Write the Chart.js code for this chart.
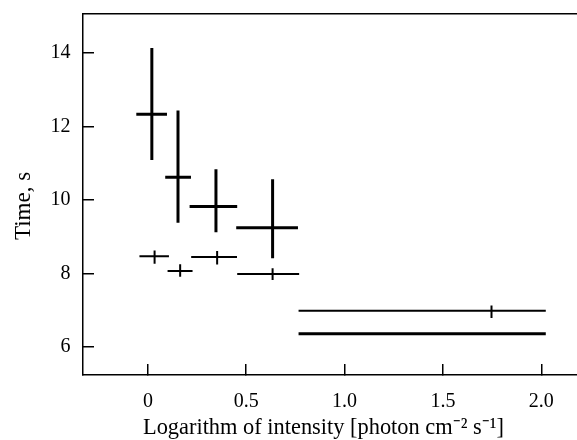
<!DOCTYPE html>
<html>
<head>
<meta charset="utf-8">
<script src="https://cdn.jsdelivr.net/npm/chart.js@4"></script>
<style>
html,body{margin:0;padding:0;background:#fff;overflow:hidden;}
#wrap{width:577px;height:440px;overflow:hidden;position:relative;}
canvas{display:block;}
</style>
</head>
<body>
<div id="wrap"><canvas id="c" width="600" height="440"></canvas></div>
<script>
// Upper series (thick crosses)
const upperX    = [0.020, 0.153, 0.346, 0.634, 1.395];
const upperXLo  = [-0.059, 0.088, 0.212, 0.449, 0.766];
const upperXHi  = [0.097, 0.219, 0.454, 0.763, 2.023];
const upperY    = [12.34, 10.62, 9.82, 9.245, 6.35];
const upperYLo  = [11.09, 9.38, 9.12, 8.41, 6.35];
const upperYHi  = [14.14, 12.44, 10.84, 10.565, 6.35];
// Lower series (thin crosses)
const lowerX    = [0.034, 0.164, 0.352, 0.634, 1.747];
const lowerXLo  = [-0.043, 0.100, 0.220, 0.454, 0.766];
const lowerXHi  = [0.107, 0.227, 0.453, 0.769, 2.023];
const lowerY    = [8.465, 8.064, 8.446, 7.98, 6.98];
const lowerYLo  = [8.26, 7.91, 8.24, 7.82, 6.78];
const lowerYHi  = [8.62, 8.25, 8.61, 8.14, 7.12];
// Tick labels
const xTicks = [0, 0.5, 1.0, 1.5, 2.0];
const yTicks = [6, 8, 10, 12, 14];

const FONT = "'Liberation Serif', 'Times New Roman', serif";

function crosses(xs, xlo, xhi, ys, ylo, yhi, width) {
  const out = [];
  for (let i = 0; i < xs.length; i++) {
    out.push({data: [{x: xlo[i], y: ys[i]}, {x: xhi[i], y: ys[i]}],
      borderColor: '#000', borderWidth: width, pointRadius: 0, showLine: true, fill: false});
    if (yhi[i] > ylo[i]) {
      out.push({data: [{x: xs[i], y: ylo[i]}, {x: xs[i], y: yhi[i]}],
        borderColor: '#000', borderWidth: width, pointRadius: 0, showLine: true, fill: false});
    }
  }
  return out;
}

const datasets = [].concat(
  crosses(upperX, upperXLo, upperXHi, upperY, upperYLo, upperYHi, 3),
  crosses(lowerX, lowerXLo, lowerXHi, lowerY, lowerYLo, lowerYHi, 2)
);

new Chart(document.getElementById('c'), {
  type: 'scatter',
  data: {datasets},
  options: {
    responsive: false,
    animation: false,
    devicePixelRatio: 1,
    layout: {padding: {top: 14, right: 19.4, bottom: 0, left: 0}},
    plugins: {legend: {display: false}, tooltip: {enabled: false}},
    scales: {
      x: {
        type: 'linear', position: 'bottom', min: -0.33, max: 2.2,
        afterBuildTicks: s => { s.ticks = xTicks.map(v => ({value: v})); },
        afterFit: s => { s.height = 65; s.paddingLeft = 0; s.paddingRight = 0; },
        border: {display: true, color: '#000', width: 1.5},
        grid: {display: true, drawOnChartArea: false, drawTicks: true, tickLength: -11, color: '#000', lineWidth: 1.5},
        ticks: {color: '#000', padding: 26, maxRotation: 0, font: {family: FONT, size: 20},
          callback: v => (v === 0 ? '0' : v.toFixed(1))},
        title: {display: true, text: 'Logarithm of intensity [photon cm\u207B\u00B2 s\u207B\u00B9]\u00A0\u00A0\u00A0',
          color: '#000', font: {family: FONT, size: 22.4}, padding: {top: 0, bottom: -1.5}}
      },
      xTop: {
        type: 'linear', position: 'top', min: -0.33, max: 2.2,
        afterFit: s => { s.height = 0; s.paddingLeft = 0; s.paddingRight = 0; },
        border: {display: true, color: '#000', width: 1.5},
        grid: {display: false, drawOnChartArea: false, drawTicks: false},
        ticks: {display: false}
      },
      y: {
        type: 'linear', position: 'left', min: 5.228, max: 15.07,
        afterBuildTicks: s => { s.ticks = yTicks.map(v => ({value: v})); },
        afterFit: s => { s.width = 83; s.paddingTop = 0; s.paddingBottom = 0; },
        border: {display: true, color: '#000', width: 1.5},
        grid: {display: true, drawOnChartArea: false, drawTicks: true, tickLength: -11, color: '#000', lineWidth: 1.5},
        ticks: {color: '#000', padding: 23.5, font: {family: FONT, size: 20}, callback: v => String(v)},
        title: {display: true, text: 'Time, s\u00A0\u00A0\u00A0\u00A0',
          color: '#000', font: {family: FONT, size: 23}, padding: {top: 10.4, bottom: 0}}
      }
    }
  }
});
</script>
</body>
</html>
